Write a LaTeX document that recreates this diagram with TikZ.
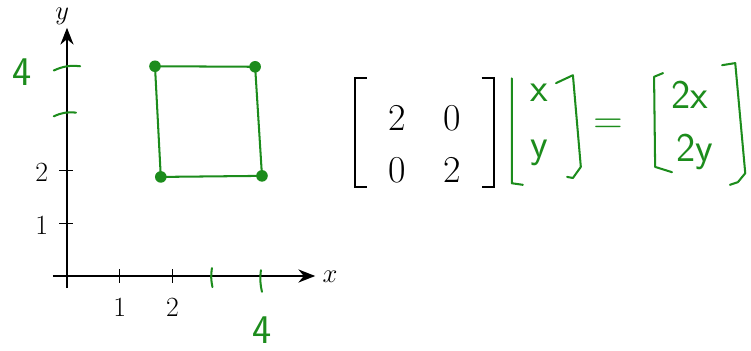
\documentclass[tikz,border=0pt]{standalone}
\usepackage{tikz}
\usetikzlibrary{arrows.meta,positioning}
\definecolor{InkGreen}{HTML}{1C8C1C}

\begin{document}
\begin{tikzpicture}[
    axis/.style={-{Stealth[length=3.2mm,width=2.5mm]},line width=0.8pt},
    tick/.style={line width=0.8pt},
    lbl/.style={font=\fontsize{15}{18}\selectfont,inner sep=0pt},
    entry/.style={font=\fontsize{20.5}{24}\selectfont,inner sep=0pt},
    bracket/.style={line width=0.9pt},
    ink/.style={draw=InkGreen,line width=1.1pt,line cap=round,line join=round},
    inktext/.style={text=InkGreen,font=\sffamily\fontsize{22}{26}\selectfont,inner sep=0pt},
    dot/.style={circle,fill=InkGreen,inner sep=0pt,minimum size=2.2mm}
  ]
  \useasboundingbox (-1.271,-1.423) rectangle (12.979,5.237);
  % axes
  \coordinate (xstart) at (-0.27,0);
  \coordinate (xend) at (4.71,0);
  \coordinate (ystart) at (0,-0.23);
  \coordinate (yend) at (0,4.71);
  \draw[axis] (xstart) -- (xend);
  \draw[axis] (ystart) -- (yend);
  \node[lbl] (xlabel) at (4.99,-0.02) {$x$};
  \node[lbl] (ylabel) at (-0.09,4.93) {$y$};
  \foreach \t in {1,2} {
    \draw[tick] (\t,-0.13) -- (\t,0.13);
    \draw[tick] (-0.15,\t) -- (0.11,\t);
    \node[lbl] (xtick\t) at (\t,-0.59) {\t};
    \node[lbl] (ytick\t) at (-0.48,\t-0.04) {\t};
  }
  % hand-drawn marks on the axes
  \draw[ink] (2.75,0.15) to[bend right=10] (2.76,-0.21);
  \draw[ink] (3.68,0.11) to[bend right=10] (3.70,-0.30);
  \draw[ink] (-0.25,3.90) to[bend left=15] (0.25,3.98);
  \draw[ink] (-0.25,3.03) to[bend left=15] (0.17,3.10);
  \node[inktext] (xfour) at (3.70,-1.02) {4};
  \node[inktext] (yfour) at (-0.85,3.87) {4};
  % the square
  \node[dot] (tl) at (1.67,3.98) {};
  \node[dot] (tr) at (3.57,3.97) {};
  \node[dot] (br) at (3.70,1.90) {};
  \node[dot] (bl) at (1.78,1.88) {};
  \draw[ink] (tl.center) -- (tr.center) -- (br.center) -- (bl.center) -- cycle;
  % matrix
  \node[entry] (a11) at (6.26,3.00) {2};
  \node[entry] (a12) at (7.31,3.00) {0};
  \node[entry] (a21) at (6.26,2.01) {0};
  \node[entry] (a22) at (7.31,2.01) {2};
  \draw[bracket] (5.69,3.76) -- (5.46,3.76) -- (5.46,1.69) -- (5.69,1.69);
  \draw[bracket] (7.87,3.76) -- (8.10,3.76) -- (8.10,1.69) -- (7.87,1.69);
  % hand-written vector and result
  \draw[ink] (8.44,3.75) -- (8.44,1.76) -- (8.65,1.73);
  \draw[ink] (9.28,3.66) -- (9.60,3.81) -- (9.75,2.07) -- (9.60,1.86) -- (9.49,1.88);
  \node[inktext] (vx) at (8.96,3.47) {x};
  \node[inktext] (vy) at (8.96,2.33) {y};
  \node[inktext] (eq) at (10.27,2.85) {=};
  \draw[ink] (11.31,3.85) -- (11.14,3.78) -- (11.16,2.07) -- (11.48,1.97);
  \draw[ink] (12.43,4.00) -- (12.68,4.04) -- (12.87,1.95) -- (12.73,1.78) -- (12.58,1.73);
  \node[inktext] (rx) at (11.82,3.43) {2x};
  \node[inktext] (ry) at (11.92,2.35) {2y};
\end{tikzpicture}
\end{document}
